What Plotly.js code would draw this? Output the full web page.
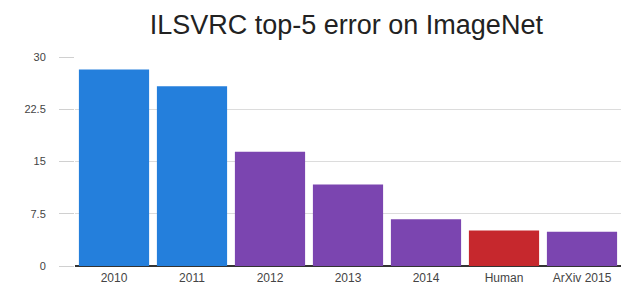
<!DOCTYPE html>
<html><head><meta charset="utf-8">
<script src="https://cdn.plot.ly/plotly-3.0.1.min.js"></script>
<style>html,body{margin:0;padding:0;background:#fff}#c{width:624px;height:287px}</style>
</head><body><div id="c"></div>
<script>
const categories = ["2010","2011","2012","2013","2014","Human","ArXiv 2015"];
const errors = [28.2, 25.8, 16.4, 11.7, 6.7, 5.1, 4.9];
const barColors = ["#247fdc","#247fdc","#7b45b0","#7b45b0","#7b45b0","#c6282d","#7b45b0"];
const yTicks = [0, 7.5, 15, 22.5, 30];
const yTickText = ["0","7.5","15","22.5","30"];

Plotly.newPlot("c", [{
  type: "bar", x: categories, y: errors,
  marker: {color: barColors, line: {width: 0}},
  hoverinfo: "skip"
}], {
  width: 624, height: 287,
  margin: {l: 75, r: 3, t: 57, b: 21},
  paper_bgcolor: "#fff", plot_bgcolor: "#fff",
  bargap: 0.1,
  title: {text: "ILSVRC top-5 error on ImageNet", x: 0.555, xanchor: "center", y: 0.916, yanchor: "middle",
    font: {family: "Liberation Sans, Arial, sans-serif", size: 27, color: "#222"}},
  font: {family: "Liberation Sans, Arial, sans-serif", size: 11, color: "#444"},
  xaxis: {type: "category", range: [-0.5, 6.5], showgrid: false, ticks: "", ticklabelstandoff: 3,
    tickfont: {size: 12, color: "#444"}, fixedrange: true},
  yaxis: {range: [0, 30], tickvals: yTicks, ticktext: yTickText, showgrid: true, gridcolor: "#dcdcdc",
    zeroline: true, zerolinecolor: "#333", zerolinewidth: 1.5,
    ticks: "outside", ticklen: 15, tickcolor: "#d0d0d0", ticklabelstandoff: 11,
    tickfont: {size: 11, color: "#444"}, fixedrange: true}
}, {displayModeBar: false, staticPlot: true});
</script></body></html>
